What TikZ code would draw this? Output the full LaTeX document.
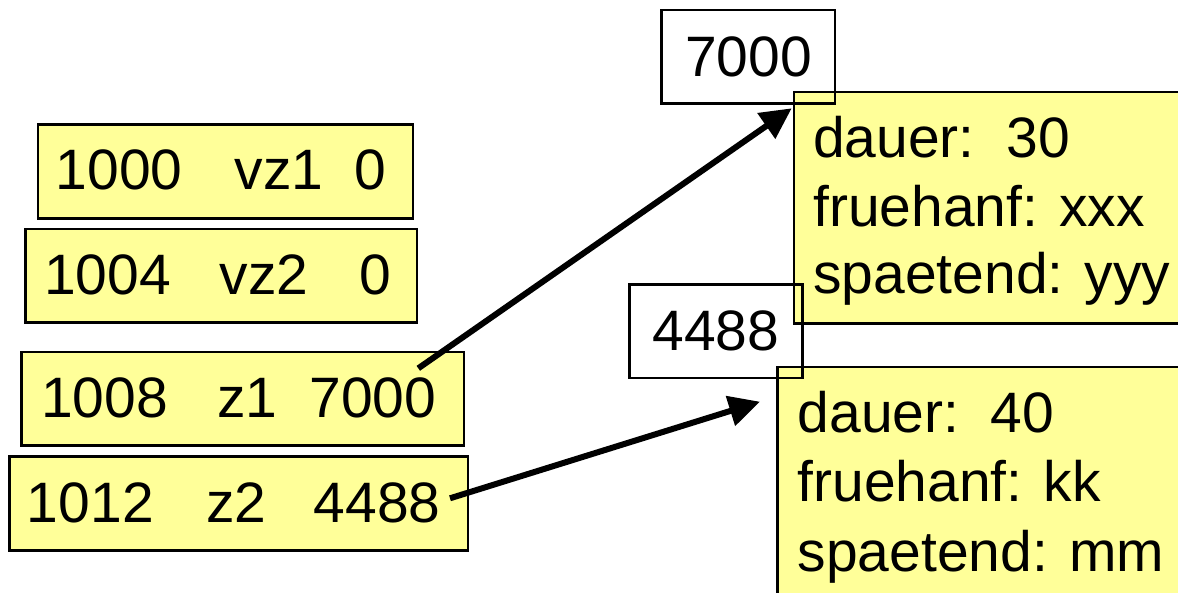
\documentclass[tikz,border=0pt]{standalone}
\usepackage{fontspec}
\setmainfont{Liberation Sans}
\usetikzlibrary{arrows.meta}
\definecolor{memyellow}{HTML}{FFFF99}
\tikzset{
  ybox/.style={draw=black, line width=2.5pt, fill=memyellow, rectangle, inner sep=0pt, anchor=north west},
  wbox/.style={draw=black, line width=2.5pt, rectangle, inner sep=0pt, minimum width=173.4pt, minimum height=93.8pt, font=\fontsize{57}{68}\selectfont},
  txt/.style={inner sep=0pt, anchor=base west, font=\fontsize{57}{68}\selectfont},
  ptr/.style={line width=6pt, -{Triangle[length=31pt,width=30pt]}},
}
\begin{document}
\begin{tikzpicture}[x=1pt,y=-1pt]
\clip (0,0) rectangle (1178,593);
% memory rows (left)
\node[ybox, minimum width=375pt, minimum height=94pt] (r1) at (36.7,123.3) {};
\node[txt] (r1a) at (55.5,190) {1000};
\node[txt] (r1b) at (234.6,190) {vz1};
\node[txt] (r1c) at (354.6,190) {0};

\node[ybox, minimum width=391.4pt, minimum height=93.6pt] (r2) at (24.3,227.7) {};
\node[txt] (r2a) at (43.8,295) {1004};
\node[txt] (r2b) at (219.6,295) {vz2};
\node[txt] (r2c) at (359.6,295) {0};

\node[ybox, minimum width=442.7pt, minimum height=93.3pt] (r3) at (20,350.7) {};
\node[txt] (r3a) at (40.8,417.3) {1008};
\node[txt] (r3b) at (216.9,417.3) {z1};
\node[txt] (r3c) at (309.2,417.3) {7000};

\node[ybox, minimum width=458.4pt, minimum height=94.3pt] (r4) at (8.3,455) {};
\node[txt] (r4a) at (26.8,522) {1012};
\node[txt] (r4b) at (205.9,522) {z2};
\node[txt] (r4c) at (313.5,522) {4488};

% pointer arrows
\coordinate (s1) at (418.3,368.3);
\coordinate (t1) at (791.7,108.3);
\coordinate (s2) at (450,498.3);
\coordinate (t2) at (760,401.7);
\draw[ptr] (s1) -- (t1);
\draw[ptr] (s2) -- (t2);

% records (right)
\node[ybox, minimum width=410pt, minimum height=231.5pt] (d1) at (792.7,91) {};
\node[txt] (d1a) at (813,157.3) {dauer:~~30};
\node[txt] (d1b) at (813,226.3) {fruehanf: xxx};
\node[txt] (d1c) at (813,293.3) {spaetend: yyy};

\node[ybox, minimum width=430pt, minimum height=260pt] (d2) at (776,366) {};
\node[txt] (d2a) at (797.5,432.7) {dauer:~~40};
\node[txt] (d2b) at (797.5,501.7) {fruehanf: kk};
\node[txt] (d2c) at (797.5,571.2) {spaetend: mm};

% address labels
\node[wbox] (a1) at (748.4,56.7) {7000};
\node[wbox] (a2) at (716,331.3) {4488};
\end{tikzpicture}
\end{document}
